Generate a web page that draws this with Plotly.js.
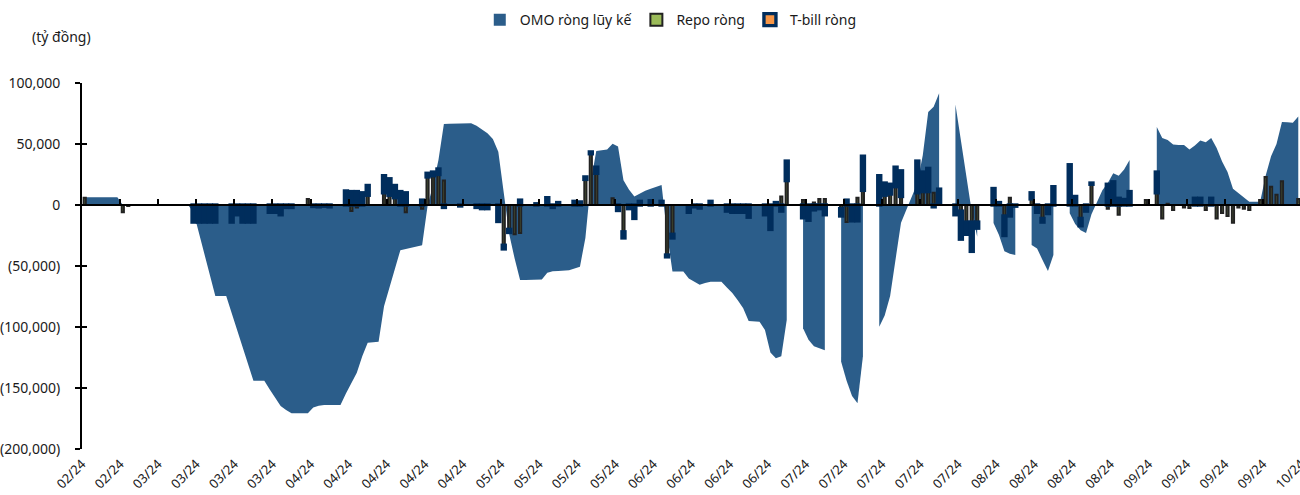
<!DOCTYPE html>
<html>
<head>
<meta charset="utf-8">
<script src="https://cdn.plot.ly/plotly-3.0.1.min.js"></script>
<style>
html,body{margin:0;padding:0;background:#fff;overflow:hidden;}
#chart{width:1320px;height:495px;}
</style>
</head>
<body>
<div id="chart"></div>
<script>
// Daily series starting Tue 2024-02-20, one line per week (Tue..Mon)
const startDate = '2024-02-20';
const endDate = '2024-10-01';

// OMO ròng lũy kế (cumulative net OMO), tỷ đồng
const omo = [
  6300, 6300, 6300, 6300, 6300, 6300, 6300,
  0, 0, 0, 0, 0, 0, 0,
  0, 0, 0, 0, 0, 0, -6000,
  -23000, -40500, -58000, -74600, -74600, -74600, -88500,
  -102500, -116700, -130900, -144000, -144000, -144000, -151300,
  -158000, -164800, -168000, -170700, -170700, -170700, -170700,
  -166000, -164500, -164000, -164000, -164000, -164000, -154500,
  -145800, -137400, -124000, -113000, -112500, -112000, -83000,
  -67800, -52000, -37000, -36000, -35000, -34000, -33000,
  -800, 16000, 36800, 66400, 66500, 66700, 66800,
  67000, 67000, 65000, 61800, 58900, 54000, 43700,
  10000, -23700, -43900, -61500, -61500, -61500, -61300,
  -61000, -55500, -54400, -54000, -53700, -53400, -52100,
  -50600, -27000, 19000, 44200, 45000, 45400, 50300,
  48000, 20300, 12800, 7000, 9500, 11700, 13300,
  14800, 16400, -23200, -54600, -54600, -54600, -60200,
  -62800, -65400, -64000, -62900, -62900, -62900, -67600,
  -72100, -78000, -84700, -95000, -95600, -95600, -102500,
  -121000, -125700, -124000, -94300, null, null, -101000,
  -110400, -115700, -117600, -119000, null, null, -128500,
  -144000, -156600, -162500, -124000, null, null, -99700,
  -90500, -74500, -44300, -14500, -3700, 7000, 17800,
  40800, 76300, 80500, 91500, null, null, 82400,
  53400, 24500, -5600, -26000, null, null, -14800,
  -24600, -38000, -40000, -41000, null, null, -32800,
  -35700, -45000, -54000, -41000, null, null, -6800,
  -15500, -20700, -23000, -7500, 2000, 12000, 18000,
  26000, 24000, 29000, 36900, null, null, null,
  null, 64000, 55000, 53300, 49500, 49200, 49200,
  45500, 48700, 52800, 51500, 55000, 46800, 35600,
  27000, 13400, 9600, 5800, 2700, 2700, 2700,
  24000, 40000, 50000, 68000, 67800, 67500, 72500
];

// Repo ròng (net repo)
const repo = [
  6000, 0, 0, 0, 0, 0, 0,
  -6000, -800, 0, 0, 0, 0, 0,
  0, 0, 0, 0, 0, 0, 0,
  0, 0, 0, 0, 0, 0, 0,
  0, 0, 0, 0, 0, 0, 0,
  0, 0, 0, 0, 0, 0, 5000,
  0, 0, 0, 0, 0, 0, 0,
  -5000, -2000, 0, 8000, 0, 0, 10000,
  8000, 6000, 0, -6000, 0, 0, -3000,
  23000, 24000, 25000, 20000, 0, 0, 0,
  0, 0, 0, 0, 0, 0, 0,
  -33000, -20000, -24000, -23000, 0, 0, 0,
  0, 0, 0, 0, 0, 0, 0,
  0, 21000, 42000, 26000, 0, 0, 5500,
  0, -22000, 0, 0, 0, 0, 0,
  0, 0, -41000, -24000, 0, 0, -2000,
  0, 0, 0, 0, 0, 0, 0,
  0, 0, 0, 0, 0, 0, 0,
  0, 0, 7000, 20000, 0, 0, 4000,
  0, 2000, 5000, 5000, 0, 0, -3000,
  -14000, 0, 6000, 12000, 0, 0, 0,
  8000, 9000, 15000, 7000, 0, 0, 10000,
  11000, 11000, 10000, 2000, 0, 0, 0,
  -5000, -14000, -14000, -14000, 0, 0, 0,
  0, -9000, 6000, 0, 0, 0, 5000,
  0, -11000, 0, 0, 0, 0, 0,
  0, -11000, 0, 17000, 0, 0, -3000,
  0, -8000, 0, 0, 0, 0, 4000,
  0, 10000, -11000, 1000, -4000, 0, -2000,
  -2500, 0, 0, -4000, 0, -11000, -6500,
  -9000, -14500, -2000, -3000, -4000, 0, 4000,
  23000, 15000, 8500, 19500, 0, 0, 5000
];

// T-bill ròng (net T-bill)
const tbill = [
  0, 0, 0, 0, 0, 0, 0,
  0, 0, 0, 0, 0, 0, 0,
  0, 0, 0, 0, 0, 0, -14000,
  -14000, -14000, -14000, -14000, 0, 0, -14000,
  -8000, -14000, -14000, -14000, 0, 0, -6000,
  -6000, -8000, -2000, -2000, 0, 0, 0,
  -1200, -1500, -1000, -1500, 0, 0, 11500,
  11000, 11000, 10000, 8000, 0, 0, 14000,
  13500, 10000, 11000, 10000, 0, 0, 4000,
  3000, 3000, 4500, -2000, 0, 0, -800,
  0, 0, -2000, -3000, -3000, 0, -13500,
  -3000, -2500, 0, 4000, 0, 0, 1000,
  0, 6000, -2000, 2000, 0, 0, 3000,
  2500, 2000, 1500, 5000, 0, 0, 0,
  -4500, -5000, -3000, -11000, 3000, 0, 3500,
  0, 3000, -1500, -3000, 0, 0, -4000,
  -1500, -2500, 0, 3000, 0, 0, -5000,
  -6000, -6000, -6000, -10000, 0, 0, -8000,
  -20000, 2000, -5000, 16000, 0, 0, -10500,
  -12500, -4000, -3000, -8000, 0, 0, -6000,
  4000, -13000, -13000, 28000, 0, 0, 24000,
  10000, 8000, 16000, 21000, 0, 0, 26000,
  16000, 19000, -1500, 11000, 0, 0, -8000,
  -23000, -10000, -24000, -5000, 0, 0, 13500,
  2000, -16000, -9000, -1000, 0, 0, 5000,
  -6000, -3000, -7000, 15000, 0, 0, 33000,
  7000, -6000, -5000, 1000, 0, 0, 17000,
  19000, 5500, 4500, 11000, 0, 0, 0,
  0, 17000, 0, 0, 0, 0, 0,
  0, 5500, 5500, 0, 5500, 0, 0,
  0, 0, 0, 0, 0, 0, 0,
  0, 0, 0, 0, 0, 0, 0
];

const xTickLabels = ['02/24','02/24','03/24','03/24','03/24','03/24','04/24','04/24','04/24','04/24','04/24',
  '05/24','05/24','05/24','05/24','06/24','06/24','06/24','06/24','07/24','07/24','07/24','07/24','07/24',
  '08/24','08/24','08/24','08/24','09/24','09/24','09/24','09/24','10/24'];
const yTickVals = [100000, 50000, 0, -50000, -100000, -150000, -200000];
const yTickLabels = ['100,000','50,000','0','(50,000)','(100,000)','(150,000)','(200,000)'];
const unitLabel = '(tỷ đồng)';
const seriesNames = ['OMO ròng lũy kế', 'Repo ròng', 'T-bill ròng'];

const DAY = 86400000;
const t0 = Date.parse(startDate + 'T00:00:00Z');
function fmt(ms){ return new Date(ms).toISOString().slice(0,19).replace('T',' '); }
const days = omo.map((_, i) => fmt(t0 + i * DAY + DAY / 2));
const tickVals = xTickLabels.map((_, k) => fmt(t0 + k * 7 * DAY));
const nz = a => a.map(v => (v === 0 ? null : v));

const OMO_COLOR = '#2b5d8a';
const font = 'Noto Sans, sans-serif';

// split the cumulative series into its unbroken runs so gaps stay empty
const segments = [];
let cur = null;
omo.forEach((v, i) => {
  if (v === null) { cur = null; return; }
  if (!cur) { cur = {x: [], y: []}; segments.push(cur); }
  cur.x.push(days[i]); cur.y.push(v);
});

const traces = [
  {type: 'bar', name: seriesNames[0], x: [days[0]], y: [null], xaxis: 'x', yaxis: 'y',
   legendgroup: 'omo', marker: {color: OMO_COLOR, line: {width: 0}}}
];
segments.forEach(s => traces.push({
  type: 'scatter', mode: 'lines', x: s.x, y: s.y, xaxis: 'x', yaxis: 'y',
  fill: 'tozeroy', fillcolor: OMO_COLOR, line: {width: 0, color: OMO_COLOR},
  showlegend: false, legendgroup: 'omo', hoverinfo: 'skip'
}));
traces.push(
  {
    type: 'bar', name: seriesNames[1], x: days, y: nz(repo), xaxis: 'x2', yaxis: 'y2',
    width: DAY * 0.4,
    marker: {color: '#9bbb59', line: {color: '#222222', width: 2}}
  },
  {
    type: 'bar', name: seriesNames[2], x: days, y: nz(tbill), xaxis: 'x2', yaxis: 'y2',
    width: DAY * 0.55,
    marker: {color: '#f79646', line: {color: '#002d5c', width: 3.4}}
  }
);

const xr = [startDate, endDate];
const layout = {
  width: 1320, height: 495,
  margin: {l: 82, r: 19, t: 83, b: 46, autoexpand: false},
  paper_bgcolor: '#fff', plot_bgcolor: 'rgba(0,0,0,0)',
  font: {family: font, size: 14, color: '#1a1a1a'},
  barmode: 'relative', bargap: 0,
  showlegend: true,
  legend: {orientation: 'h', x: 0.483, xanchor: 'center', y: 1.172, yanchor: 'middle',
    font: {family: font, size: 14, color: '#1a1a1a'}, traceorder: 'normal', itemclick: false},
  xaxis: {type: 'date', range: xr, tickvals: tickVals, ticktext: xTickLabels, tickangle: -45,
    ticks: '', showline: false, showgrid: false, zeroline: false, fixedrange: true,
    tickfont: {family: font, size: 13, color: '#1a1a1a'}, ticklabelstandoff: 4},
  xaxis2: {type: 'date', range: xr, overlaying: 'x', anchor: 'free', position: 2/3,
    tickvals: tickVals, showticklabels: false, ticks: 'inside', ticklen: 5, tickwidth: 2, tickcolor: '#000',
    showline: true, linewidth: 2, linecolor: '#000', showgrid: false, zeroline: false, fixedrange: true},
  yaxis: {range: [-200000, 100000], tickvals: yTickVals, ticktext: yTickLabels,
    ticks: 'outside', ticklen: 5, tickwidth: 2, tickcolor: '#000',
    showline: true, linewidth: 2, linecolor: '#000', showgrid: false, zeroline: false, fixedrange: true,
    tickfont: {family: font, size: 14, color: '#1a1a1a'}, ticklabelstandoff: 12},
  yaxis2: {range: [-200000, 100000], overlaying: 'y', side: 'left', tickvals: yTickVals,
    showticklabels: false, ticks: 'inside', ticklen: 5, tickwidth: 2, tickcolor: '#000',
    showline: false, showgrid: false, zeroline: false, fixedrange: true},
  annotations: [{text: unitLabel, xref: 'paper', yref: 'paper', x: -0.017, y: 1.126,
    xanchor: 'center', yanchor: 'middle', showarrow: false, font: {family: font, size: 14, color: '#1a1a1a'}}],
  hovermode: false
};

Plotly.newPlot('chart', traces, layout, {displayModeBar: false, staticPlot: true});
</script>
</body>
</html>
